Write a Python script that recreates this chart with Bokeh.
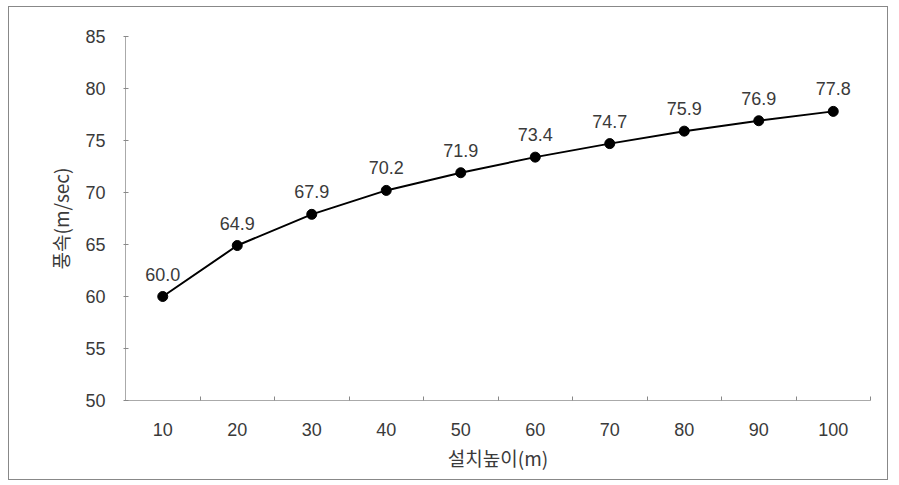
from bokeh.plotting import figure
from bokeh.models import ColumnDataSource, FixedTicker, Range1d
from bokeh.embed import file_html
from bokeh.resources import INLINE
from bokeh.core.properties import value

heights = [10, 20, 30, 40, 50, 60, 70, 80, 90, 100]
speeds = [60.0, 64.9, 67.9, 70.2, 71.9, 73.4, 74.7, 75.9, 76.9, 77.8]
labels = ["60.0", "64.9", "67.9", "70.2", "71.9", "73.4", "74.7", "75.9", "76.9", "77.8"]
y_ticks = [50, 55, 60, 65, 70, 75, 80, 85]
x_boundaries = [15, 25, 35, 45, 55, 65, 75, 85, 95, 105]

src = ColumnDataSource(dict(x=heights, y=speeds, lab=labels))

p = figure(width=880, height=474, output_backend="svg", toolbar_location=None,
           x_range=Range1d(5, 105), y_range=Range1d(50, 85),
           min_border_left=116, min_border_right=19, min_border_top=29, min_border_bottom=81)
p.styles = {"border": "1px solid #888", "margin-left": "8px", "margin-top": "6px"}
p.outline_line_color = None
p.xgrid.grid_line_color = None
p.ygrid.grid_line_color = None
p.background_fill_color = "white"
p.border_fill_color = "white"

font = "Liberation Sans"
kfont = "Noto Sans CJK KR"

p.xaxis.ticker = FixedTicker(ticks=heights, minor_ticks=x_boundaries)
p.yaxis.ticker = FixedTicker(ticks=y_ticks)
for ax in (p.xaxis[0], p.yaxis[0]):
    ax.axis_line_color = "#aaaaaa"
    ax.major_label_text_font = font
    ax.major_label_text_font_size = "18px"
    ax.major_label_text_color = "#3a3a3a"
    ax.axis_label_text_font = kfont
    ax.axis_label_text_font_size = "19px"
    ax.axis_label_text_font_style = "normal"
    ax.axis_label_text_color = "#3a3a3a"

p.xaxis.major_tick_line_color = None
p.xaxis.minor_tick_line_color = "#888888"
p.xaxis.minor_tick_in = 4
p.xaxis.minor_tick_out = 0
p.xaxis.major_label_standoff = 16
p.xaxis.axis_label = "설치높이(m)"
p.xaxis.axis_label_standoff = 5

p.yaxis.major_tick_line_color = "#888888"
p.yaxis.major_tick_in = 3
p.yaxis.major_tick_out = 2
p.yaxis.minor_tick_line_color = None
p.yaxis.major_label_standoff = 18
p.yaxis.axis_label = "풍속(m/sec)"
p.yaxis.axis_label_standoff = 8

p.line("x", "y", source=src, line_color="black", line_width=2)
p.scatter("x", "y", source=src, size=10, fill_color="black", line_color="black")
p.text("x", "y", text="lab", source=src, text_align="center", text_baseline="bottom",
       y_offset=-16, text_font=value(font), text_font_size="18px", text_color="#3a3a3a")

open("out.html", "w").write(file_html(p, INLINE))
